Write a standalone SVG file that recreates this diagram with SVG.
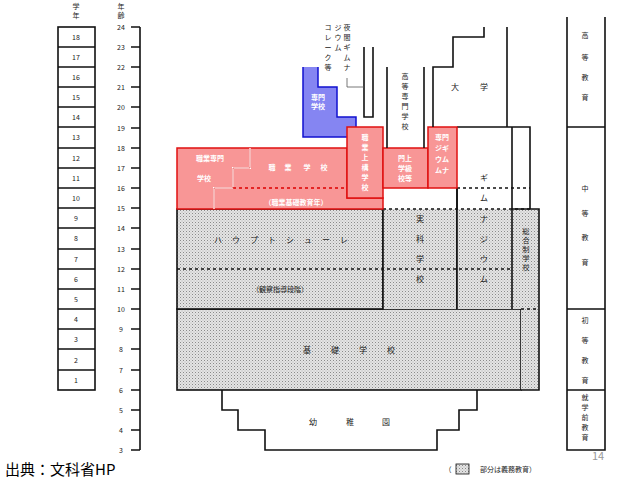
<svg xmlns="http://www.w3.org/2000/svg" width="638" height="479" viewBox="0 0 638 479">
<defs>
<pattern id="dots" width="3" height="3" patternUnits="userSpaceOnUse"><rect width="3" height="3" fill="#e4e4e4"/><rect width="1" height="1" fill="#8a8a8a"/><rect x="1.5" y="1.5" width="1" height="1" fill="#b0b0b0"/></pattern>
</defs>
<style>
text{font-family:"Noto Sans CJK JP","Noto Sans",sans-serif;fill:#222;text-anchor:middle}
.s{font-size:7px}
.m{font-size:8px}
.w{fill:#fff;font-size:7px;font-weight:bold}
.k{fill:none;stroke:#111;stroke-width:1.6}
.d{fill:none;stroke:#111;stroke-width:1.6;stroke-dasharray:3,3}
.rd{fill:none;stroke:#d00;stroke-width:1.3;stroke-dasharray:3,3}
.red{fill:#f89696;stroke:#e01010;stroke-width:1.5}
</style>
<rect width="638" height="479" fill="#fff"/>
<g id="grades">
<text class="s" x="76" y="9">学</text><text class="s" x="76" y="18">年</text>
<g class="k">
<rect x="58" y="27" width="37" height="363"/>
<path d="M58 47H95M58 67H95M58 87H95M58 107H95M58 127H95M58 148H95M58 168H95M58 188H95M58 208H95M58 228H95M58 249H95M58 269H95M58 289H95M58 309H95M58 329H95M58 349H95M58 370H95"/>
</g>
<g class="s">
<text x="76" y="40">18</text><text x="76" y="60">17</text><text x="76" y="80">16</text><text x="76" y="100">15</text><text x="76" y="120">14</text><text x="76" y="140">13</text><text x="76" y="161">12</text><text x="76" y="181">11</text><text x="76" y="201">10</text><text x="76" y="221">9</text><text x="76" y="241">8</text><text x="76" y="262">7</text><text x="76" y="282">6</text><text x="76" y="302">5</text><text x="76" y="322">4</text><text x="76" y="342">3</text><text x="76" y="363">2</text><text x="76" y="383">1</text>
</g>
</g>
<g id="ages">
<text class="s" x="121" y="9">年</text><text class="s" x="121" y="18">齢</text>
<path class="k" d="M140 27V450M131 27H140M131 47H140M131 67H140M131 87H140M131 107H140M131 128H140M131 148H140M131 168H140M131 188H140M131 208H140M131 228H140M131 249H140M131 269H140M131 289H140M131 309H140M131 329H140M131 349H140M131 370H140M131 390H140M131 410H140M131 430H140M131 450H140"/>
<g class="s">
<text x="121" y="30">24</text><text x="121" y="50">23</text><text x="121" y="70">22</text><text x="121" y="90">21</text><text x="121" y="110">20</text><text x="121" y="131">19</text><text x="121" y="151">18</text><text x="121" y="171">17</text><text x="121" y="191">16</text><text x="121" y="211">15</text><text x="121" y="231">14</text><text x="121" y="252">13</text><text x="121" y="272">12</text><text x="121" y="292">11</text><text x="121" y="312">10</text><text x="121" y="332">9</text><text x="121" y="352">8</text><text x="121" y="373">7</text><text x="121" y="393">6</text><text x="121" y="413">5</text><text x="121" y="433">4</text><text x="121" y="453">3</text>
</g>
</g>
<g id="kindergarten">
<path class="k" fill="#fff" d="M222 390V410H238V430H265V450H437V430H459V410H477V390"/>
<text class="m" x="313" y="425">幼</text><text class="m" x="350" y="425">稚</text><text class="m" x="386" y="425">園</text>
</g>
<g id="grundschule">
<rect x="177" y="309" width="344" height="81" fill="url(#dots)" stroke="#111" stroke-width="1.6"/>
<text class="m" x="307" y="353">基</text><text class="m" x="335" y="353">礎</text><text class="m" x="363" y="353">学</text><text class="m" x="391" y="353">校</text>
</g>
<g id="gesamtschule">
<path d="M512 209H539V390H521V309H512Z" fill="url(#dots)"/>
<path class="k" d="M512 209H539V390H521"/>
<path class="d" d="M521 309H539"/>
<text class="s" x="526" y="234">総</text><text class="s" x="526" y="243">合</text><text class="s" x="526" y="252">制</text><text class="s" x="526" y="261">学</text><text class="s" x="526" y="270">校</text>
</g>
<g id="hauptschule">
<rect x="177" y="209" width="206" height="100" fill="url(#dots)" stroke="#111" stroke-width="1.6"/>
<text class="m" x="218" y="243">ハ</text><text class="m" x="236" y="243">ウ</text><text class="m" x="254" y="243">プ</text><text class="m" x="272" y="243">ト</text><text class="m" x="290" y="243">シ</text><text class="m" x="308" y="243">ュ</text><text class="m" x="326" y="243">ー</text><text class="m" x="344" y="243">レ</text>
<text class="s" x="280" y="292">（観察指導段階）</text>
</g>
<g id="realschule">
<rect x="383" y="209" width="74" height="100" fill="url(#dots)"/>
<path class="k" d="M383 209V309M457 188V309"/>
<text class="m" x="420" y="222">実</text><text class="m" x="420" y="242">科</text><text class="m" x="420" y="262">学</text><text class="m" x="420" y="282">校</text>
</g>
<g id="gymnasium">
<rect x="457" y="209" width="55" height="100" fill="url(#dots)"/>
<path class="k" d="M457 127H530V209M512 127V309M457 188V309"/>
<path class="d" d="M457 188H530M383 209H530M177 269H512"/>
<text class="m" x="484" y="181">ギ</text><text class="m" x="484" y="201">ム</text><text class="m" x="484" y="222">ナ</text><text class="m" x="484" y="242">ジ</text><text class="m" x="484" y="262">ウ</text><text class="m" x="484" y="282">ム</text>
</g>
<g id="senmon-gakko-blue">
<path d="M303 67H318V87H337V117H356V137H303Z" fill="#8585f2"/>
<path d="M303 67V137H356V117H337V87H318V67" fill="none" stroke="#1010d0" stroke-width="1.5"/>
<text class="w" x="318" y="100">専門</text><text class="w" x="318" y="109">学校</text>
</g>
<g id="vocational-red">
<path class="red" d="M177 148H347V198H383V209H177Z"/>
<path d="M250 148V168H233V188H214V209" fill="none" stroke="#fff" stroke-width="2"/>
<path d="M250 148V168H233V188H214V209" fill="none" stroke="#e01010" stroke-width="0.6"/>
<path class="rd" d="M233 188H347"/>
<text class="w" x="210" y="161">職業専門</text><text class="w" x="204" y="181">学校</text>
<text class="w" x="272" y="170">職</text><text class="w" x="288" y="170">業</text><text class="w" x="307" y="170">学</text><text class="w" x="324" y="170">校</text>
<text class="w" x="296" y="205">（職業基礎教育年）</text>
</g>
<g id="berufsaufbauschule">
<rect class="red" x="347" y="127" width="36" height="71"/>
<text class="w" x="365" y="140">職</text><text class="w" x="365" y="150">業</text><text class="w" x="365" y="160">上</text><text class="w" x="365" y="170">構</text><text class="w" x="365" y="180">学</text><text class="w" x="365" y="190">校</text>
</g>
<g id="fachoberschule">
<rect class="red" x="383" y="148" width="45" height="40"/>
<text class="w" x="405" y="161">門上</text><text class="w" x="405" y="171">学級</text><text class="w" x="405" y="181">校等</text>
</g>
<g id="fachgymnasium">
<rect class="red" x="428" y="127" width="29" height="61"/>
<text class="w" x="442" y="140">専門</text><text class="w" x="442" y="151">ジギ</text><text class="w" x="442" y="162">ウム</text><text class="w" x="442" y="173">ムナ</text>
</g>
<g id="fachhochschule">
<path class="k" d="M387 67V148M424 67V148"/>
<text class="s" x="405" y="79">高</text><text class="s" x="405" y="89">等</text><text class="s" x="405" y="99">専</text><text class="s" x="405" y="109">門</text><text class="s" x="405" y="119">学</text><text class="s" x="405" y="129">校</text>
</g>
<g id="university">
<path class="k" d="M433 127V67H453V37H484V27M507 27V127"/>
<text class="m" x="455" y="90">大</text><text class="m" x="484" y="90">学</text>
</g>
<g id="abendgymnasium">
<path class="k" d="M364 47V117H373V47"/>
<path d="M347 78V87H364" fill="none" stroke="#555" stroke-width="0.8"/>
<g class="s">
<text x="328" y="30">コ</text><text x="328" y="40">レ</text><text x="328" y="50">ー</text><text x="328" y="60">ク</text><text x="328" y="70">等</text>
<text x="338" y="30">ジ</text><text x="338" y="40">ウ</text><text x="338" y="50">ム</text>
<text x="347" y="30">夜</text><text x="347" y="40">間</text><text x="347" y="50">ギ</text><text x="347" y="60">ム</text><text x="347" y="70">ナ</text>
</g>
</g>
<g id="levels">
<path class="k" d="M567 17V450H605V17M567 127H605M567 309H605M567 390H605"/>
<g class="s">
<text x="585" y="38">高</text><text x="585" y="60">等</text><text x="585" y="80">教</text><text x="585" y="100">育</text>
<text x="585" y="191">中</text><text x="585" y="216">等</text><text x="585" y="240">教</text><text x="585" y="265">育</text>
<text x="585" y="323">初</text><text x="585" y="343">等</text><text x="585" y="363">教</text><text x="585" y="383">育</text>
<text x="585" y="400">就</text><text x="585" y="410">学</text><text x="585" y="420">前</text><text x="585" y="430">教</text><text x="585" y="440">育</text>
</g>
</g>
<g id="footer">
<text x="5" y="475" style="font-size:15px;text-anchor:start;fill:#000">出典：文科省HP</text>
<text x="598" y="460" style="font-size:11px;fill:#999">14</text>
<text class="s" x="448" y="472">（</text>
<rect x="456" y="464" width="13" height="10" fill="url(#dots)" stroke="#111" stroke-width="0.8"/>
<text class="s" x="508" y="472">部分は義務教育）</text>
</g>
</svg>
